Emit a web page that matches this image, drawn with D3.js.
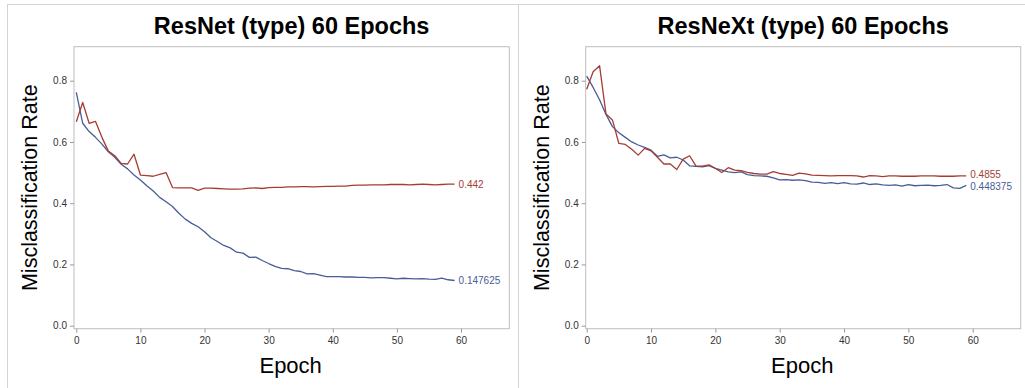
<!DOCTYPE html>
<html>
<head>
<meta charset="utf-8">
<script src="https://cdn.jsdelivr.net/npm/d3@7"></script>
<style>
  html, body { margin: 0; padding: 0; background: #fff; }
  svg { display: block; font-family: "Liberation Sans", Arial, Helvetica, sans-serif; }
</style>
</head>
<body>
<svg id="chart" width="1025" height="388"></svg>
<script>
// Misclassification rate per epoch (epochs 0..59)
const resnetTrain = [
  0.762, 0.661, 0.634, 0.615, 0.593, 0.568, 0.550, 0.527, 0.512, 0.492,
  0.476, 0.457, 0.440, 0.419, 0.405, 0.389, 0.367, 0.348, 0.334, 0.323,
  0.307, 0.287, 0.275, 0.262, 0.254, 0.240, 0.237, 0.223, 0.224, 0.213,
  0.203, 0.194, 0.187, 0.186, 0.180, 0.177, 0.169, 0.170, 0.165, 0.160,
  0.160, 0.160, 0.159, 0.159, 0.158, 0.158, 0.156, 0.157, 0.157, 0.155,
  0.153, 0.155, 0.154, 0.153, 0.154, 0.152, 0.151, 0.155, 0.150, 0.147625
];
const resnetValid = [
  0.666, 0.729, 0.661, 0.667, 0.615, 0.570, 0.555, 0.530, 0.528, 0.560,
  0.492, 0.490, 0.488, 0.494, 0.500, 0.451, 0.450, 0.450, 0.450, 0.442,
  0.449, 0.449, 0.448, 0.447, 0.446, 0.446, 0.447, 0.449, 0.450, 0.448,
  0.451, 0.452, 0.452, 0.453, 0.453, 0.454, 0.454, 0.453, 0.454, 0.455,
  0.455, 0.456, 0.456, 0.458, 0.459, 0.459, 0.460, 0.460, 0.460, 0.461,
  0.461, 0.461, 0.460, 0.461, 0.462, 0.461, 0.460, 0.461, 0.462, 0.462
];
const resnextTrain = [
  0.815, 0.778, 0.738, 0.690, 0.650, 0.630, 0.615, 0.600, 0.590, 0.582,
  0.573, 0.553, 0.558, 0.548, 0.550, 0.541, 0.522, 0.520, 0.519, 0.523,
  0.514, 0.508, 0.502, 0.500, 0.502, 0.493, 0.490, 0.489, 0.488, 0.483,
  0.476, 0.477, 0.475, 0.476, 0.474, 0.469, 0.468, 0.465, 0.467, 0.464,
  0.467, 0.463, 0.462, 0.466, 0.461, 0.463, 0.460, 0.458, 0.460, 0.456,
  0.461, 0.457, 0.458, 0.459, 0.457, 0.458, 0.461, 0.450, 0.448375, 0.458
];
const resnextValid = [
  0.772, 0.829, 0.849, 0.691, 0.672, 0.595, 0.592, 0.576, 0.557, 0.579,
  0.571, 0.550, 0.528, 0.528, 0.510, 0.544, 0.555, 0.521, 0.521, 0.525,
  0.514, 0.500, 0.516, 0.508, 0.506, 0.501, 0.497, 0.495, 0.495, 0.503,
  0.497, 0.494, 0.491, 0.498, 0.496, 0.492, 0.491, 0.490, 0.489, 0.490,
  0.490, 0.490, 0.489, 0.4855, 0.490, 0.489, 0.487, 0.489, 0.489, 0.488,
  0.488, 0.488, 0.489, 0.489, 0.489, 0.488, 0.488, 0.488, 0.489, 0.489
];

// Labels printed at the end of each curve (best rate reached)
const resnetTrainLabel = "0.147625";
const resnetValidLabel = "0.442";
const resnextTrainLabel = "0.448375";
const resnextValidLabel = "0.4855";

const titles = ["ResNet (type) 60 Epochs", "ResNeXt (type) 60 Epochs"];
const xTicks = [0, 10, 20, 30, 40, 50, 60];
const yTicks = [0.0, 0.2, 0.4, 0.6, 0.8];
const xLabel = "Epoch";
const yLabel = "Misclassification Rate";

const BLUE = "#4a5c98";
const RED = "#A63D32";

const svg = d3.select("#chart");

// Outer panel borders
const borderColor = "#d4d4d4";
svg.append("line").attr("x1", 7).attr("x2", 1025).attr("y1", 4.5).attr("y2", 4.5)
  .attr("stroke", borderColor);
svg.append("line").attr("x1", 7.5).attr("x2", 7.5).attr("y1", 4.5).attr("y2", 388)
  .attr("stroke", borderColor);
svg.append("line").attr("x1", 518.5).attr("x2", 518.5).attr("y1", 4.5).attr("y2", 388)
  .attr("stroke", borderColor);

const panels = [
  {
    title: titles[0], frameL: 74, frameR: 509.3, x0: 76.3, x60: 461,
    series: [
      { values: resnetTrain, color: BLUE, label: resnetTrainLabel, nudge: 0 },
      { values: resnetValid, color: RED, label: resnetValidLabel, nudge: 0 }
    ]
  },
  {
    title: titles[1], frameL: 585.7, frameR: 1020.7, x0: 586.7, x60: 972.7,
    series: [
      { values: resnextTrain, color: BLUE, label: resnextTrainLabel, nudge: 1 },
      { values: resnextValid, color: RED, label: resnextValidLabel, nudge: -1 }
    ]
  }
];

const frameT = 46.7, frameB = 328.7;

panels.forEach(p => {
  const g = svg.append("g");
  const x = d3.scaleLinear().domain([0, 60]).range([p.x0, p.x60]);
  const y = d3.scaleLinear().domain([0, 0.8]).range([325.7, 80.7]);
  const cx = (p.frameL + p.frameR) / 2;

  // Title
  g.append("text")
    .attr("x", cx).attr("y", 34)
    .attr("text-anchor", "middle")
    .attr("font-size", 23.5).attr("font-weight", "bold").attr("fill", "#000")
    .text(p.title);

  // Plot frame
  g.append("rect")
    .attr("x", p.frameL).attr("y", frameT)
    .attr("width", p.frameR - p.frameL).attr("height", frameB - frameT)
    .attr("fill", "none").attr("stroke", "#bdbdbd").attr("stroke-width", 1);

  // Y axis
  const yAxis = g.append("g")
    .attr("transform", `translate(${p.frameL},0)`)
    .call(d3.axisLeft(y).tickValues(yTicks).tickFormat(d3.format(".1f")).tickSize(4).tickPadding(3));
  yAxis.select(".domain").remove();
  yAxis.selectAll(".tick line").attr("stroke", "#9a9a9a");
  yAxis.selectAll(".tick text").attr("font-size", 10).attr("fill", "#333")
    .style("font-family", "'Liberation Sans', Arial, sans-serif");

  // X axis
  const xAxis = g.append("g")
    .attr("transform", `translate(0,${frameB})`)
    .call(d3.axisBottom(x).tickValues(xTicks).tickFormat(d3.format("d")).tickSize(4).tickPadding(4));
  xAxis.select(".domain").remove();
  xAxis.selectAll(".tick line").attr("stroke", "#9a9a9a");
  xAxis.selectAll(".tick text").attr("font-size", 10).attr("fill", "#333")
    .style("font-family", "'Liberation Sans', Arial, sans-serif");

  // Axis titles
  g.append("text")
    .attr("x", cx - 1).attr("y", 372.5)
    .attr("text-anchor", "middle").attr("font-size", 22).attr("fill", "#000")
    .text(xLabel);
  g.append("text")
    .attr("transform", `translate(${p.frameL - 37},${(frameT + frameB) / 2}) rotate(-90)`)
    .attr("text-anchor", "middle").attr("font-size", 21.5).attr("fill", "#000")
    .text(yLabel);

  // Curves and end labels
  const line = d3.line().x((d, i) => x(i)).y(d => y(d));
  p.series.forEach(s => {
    g.append("path")
      .datum(s.values)
      .attr("d", line)
      .attr("fill", "none")
      .attr("stroke", s.color)
      .attr("stroke-width", 1.3)
      .attr("stroke-linejoin", "round");
    const last = s.values.length - 1;
    g.append("text")
      .attr("x", x(last) + 4)
      .attr("y", y(s.values[last]) + s.nudge)
      .attr("dy", "0.35em")
      .attr("font-size", 10)
      .attr("fill", s.color)
      .text(s.label);
  });
});
</script>
</body>
</html>
